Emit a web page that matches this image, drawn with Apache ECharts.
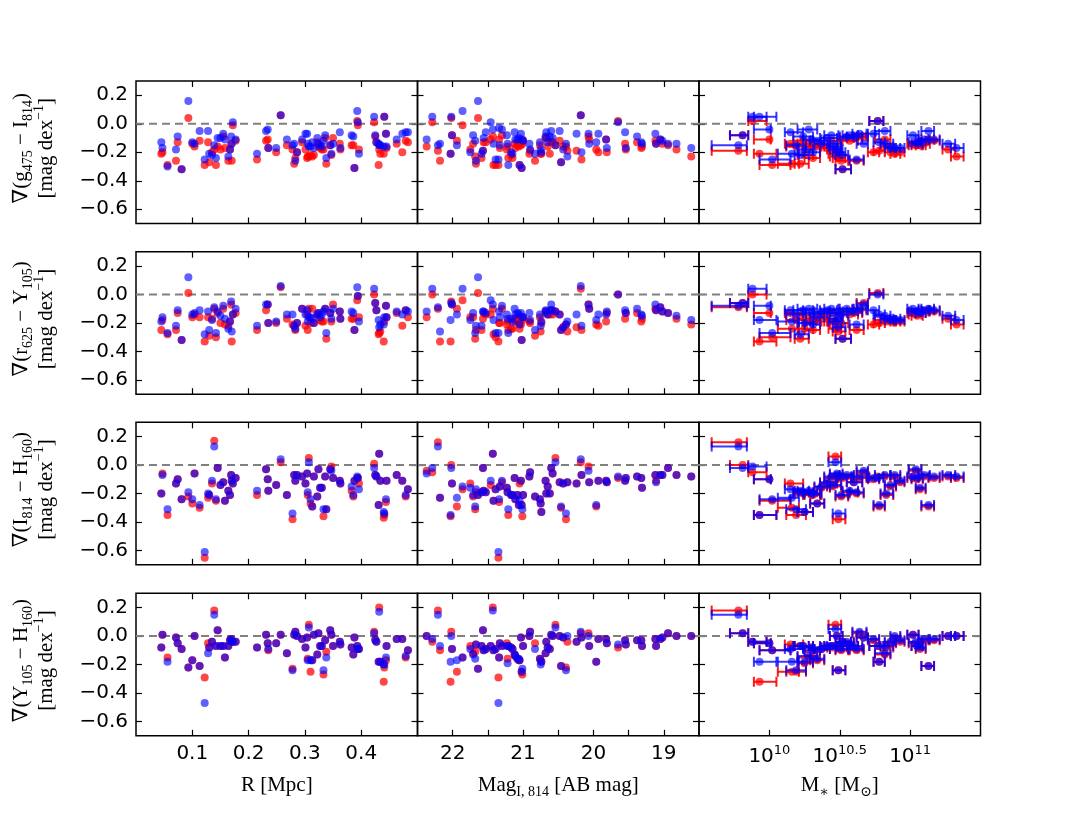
<!DOCTYPE html>
<html lang="en">
<head>
<meta charset="utf-8">
<title>Color gradients vs R, magnitude and stellar mass</title>
<style>
  html, body { margin: 0; padding: 0; background: #fff; }
  #chart { width: 1090px; height: 817px; }
</style>
</head>
<body>
<div id="chart"></div>
<script src="https://cdn.jsdelivr.net/npm/echarts@6/dist/echarts.min.js"></script>
<script>
// ---- column 1: cluster-centric radius [Mpc]
var rMpc = [0.045, 0.047, 0.056, 0.071, 0.074, 0.081, 0.093, 0.100, 0.104, 0.113,
  0.122, 0.128, 0.130, 0.135, 0.139, 0.142, 0.145, 0.150, 0.155, 0.158,
  0.164, 0.167, 0.169, 0.170, 0.172, 0.177, 0.215, 0.231, 0.234, 0.235,
  0.249, 0.257, 0.268, 0.278, 0.281, 0.283, 0.286, 0.295, 0.301, 0.304,
  0.305, 0.307, 0.310, 0.313, 0.316, 0.322, 0.324, 0.327, 0.330, 0.333,
  0.336, 0.338, 0.345, 0.347, 0.350, 0.362, 0.363, 0.383, 0.386, 0.388,
  0.393, 0.394, 0.396, 0.423, 0.425, 0.427, 0.431, 0.432, 0.434, 0.440,
  0.441, 0.444, 0.445, 0.463, 0.473, 0.479, 0.483];
var gIBlueR = [-0.13, -0.17, -0.30, -0.18, -0.09, -0.32, 0.16, -0.13, -0.14, -0.05,
  -0.25, -0.05, -0.21, -0.22, -0.15, -0.24, -0.10, -0.10, -0.07, -0.11,
  -0.23, -0.18, -0.09, -0.14, 0.01, -0.11, -0.21, -0.05, -0.04, -0.17,
  -0.17, 0.06, -0.11, -0.15, -0.14, -0.26, -0.20, -0.11, -0.07, -0.07,
  -0.14, -0.16, -0.16, -0.13, -0.17, -0.10, -0.14, -0.15, -0.16, -0.12,
  -0.08, -0.24, -0.15, -0.21, -0.14, -0.06, -0.17, -0.08, -0.09, -0.31,
  0.09, 0.01, -0.21, 0.05, -0.08, -0.13, -0.14, -0.15, -0.15, -0.16,
  0.05, -0.07, -0.16, -0.11, -0.07, -0.06, -0.06];
var gIRedR = [-0.21, -0.20, -0.29, -0.26, -0.13, -0.32, 0.04, -0.14, -0.16, -0.12,
  -0.29, -0.13, -0.27, -0.20, -0.18, -0.29, -0.16, -0.18, -0.09, -0.17,
  -0.26, -0.18, -0.14, -0.26, -0.01, -0.12, -0.25, -0.12, -0.11, -0.17,
  -0.20, 0.06, -0.15, -0.18, -0.28, -0.24, -0.20, -0.13, -0.18, -0.24,
  -0.23, -0.23, -0.22, -0.23, -0.22, -0.13, -0.16, -0.17, -0.18, -0.18,
  -0.10, -0.28, -0.15, -0.22, -0.10, -0.14, -0.18, -0.15, -0.15, -0.31,
  0.02, -0.01, -0.18, 0.01, -0.09, -0.13, -0.29, -0.18, -0.21, -0.21,
  0.05, -0.07, -0.17, -0.14, -0.20, -0.12, -0.13];
var rYBlueR = [-0.19, -0.16, -0.27, -0.22, -0.11, -0.32, 0.12, -0.14, -0.13, -0.11,
  -0.28, -0.12, -0.25, -0.18, -0.09, -0.27, -0.12, -0.15, -0.08, -0.17,
  -0.24, -0.19, -0.05, -0.26, -0.14, -0.10, -0.22, -0.07, -0.07, -0.20,
  -0.19, 0.06, -0.14, -0.14, -0.22, -0.24, -0.20, -0.10, -0.14, -0.11,
  -0.19, -0.16, -0.16, -0.17, -0.20, -0.14, -0.13, -0.16, -0.14, -0.12,
  -0.10, -0.27, -0.13, -0.17, -0.10, -0.12, -0.17, -0.12, -0.13, -0.25,
  0.05, -0.01, -0.19, 0.04, -0.06, -0.11, -0.18, -0.23, -0.21, -0.21,
  -0.16, -0.08, -0.16, -0.12, -0.14, -0.11, -0.12];
var rYRedR = [-0.25, -0.18, -0.28, -0.25, -0.13, -0.32, 0.01, -0.16, -0.14, -0.16,
  -0.33, -0.16, -0.29, -0.17, -0.10, -0.30, -0.13, -0.20, -0.10, -0.21,
  -0.22, -0.19, -0.07, -0.33, -0.14, -0.13, -0.25, -0.11, -0.07, -0.20,
  -0.20, 0.05, -0.17, -0.21, -0.22, -0.25, -0.20, -0.10, -0.22, -0.14,
  -0.25, -0.10, -0.20, -0.10, -0.20, -0.14, -0.13, -0.18, -0.19, -0.19,
  -0.10, -0.31, -0.13, -0.19, -0.07, -0.12, -0.17, -0.17, -0.17, -0.25,
  -0.04, -0.01, -0.16, 0.00, -0.06, -0.11, -0.28, -0.27, -0.26, -0.33,
  -0.19, -0.08, -0.16, -0.13, -0.22, -0.11, -0.16];
var IHBlueR = [-0.20, -0.07, -0.31, -0.13, -0.10, -0.24, -0.19, -0.24, -0.06, -0.28,
  -0.61, -0.20, -0.21, -0.11, 0.13, -0.24, -0.02, -0.14, -0.12, -0.25,
  -0.18, -0.21, -0.07, -0.11, -0.13, -0.09, -0.18, -0.03, -0.10, -0.18,
  -0.14, 0.04, -0.21, -0.34, -0.07, -0.11, -0.07, -0.08, -0.13, -0.06,
  -0.19, 0.02, -0.24, -0.29, -0.08, -0.22, -0.03, -0.16, -0.16, -0.31,
  -0.08, -0.31, -0.03, -0.04, -0.09, -0.11, -0.13, -0.15, -0.21, -0.11,
  -0.08, -0.09, -0.17, -0.02, -0.07, -0.08, -0.28, 0.08, -0.11, -0.33,
  -0.34, -0.24, -0.11, -0.07, -0.11, -0.21, -0.17];
var IHRedR = [-0.20, -0.06, -0.35, -0.13, -0.10, -0.24, -0.22, -0.27, -0.06, -0.30,
  -0.65, -0.23, -0.21, -0.13, 0.17, -0.25, -0.02, -0.14, -0.12, -0.25,
  -0.18, -0.21, -0.07, -0.11, -0.13, -0.09, -0.21, -0.03, -0.10, -0.18,
  -0.14, 0.02, -0.21, -0.38, -0.07, -0.11, -0.07, -0.08, -0.13, -0.06,
  -0.21, 0.05, -0.27, -0.29, -0.08, -0.22, -0.03, -0.16, -0.16, -0.36,
  -0.08, -0.31, -0.03, -0.01, -0.09, -0.11, -0.13, -0.18, -0.22, -0.11,
  -0.09, -0.09, -0.13, 0.01, -0.07, -0.08, -0.28, 0.08, -0.11, -0.37,
  -0.35, -0.26, -0.11, -0.07, -0.11, -0.22, -0.17];
var YHBlueR = [-0.08, 0.01, -0.18, -0.01, -0.05, -0.09, -0.22, -0.17, 0.00, -0.21,
  -0.47, -0.12, -0.08, -0.04, 0.15, -0.07, 0.04, -0.07, -0.07, -0.15,
  -0.07, -0.03, -0.02, -0.04, -0.04, -0.04, -0.08, 0.01, -0.05, -0.09,
  -0.05, 0.01, -0.12, -0.24, 0.01, 0.03, 0.00, -0.02, -0.08, -0.01,
  -0.17, 0.06, -0.17, -0.17, 0.01, -0.13, 0.02, -0.07, -0.07, -0.24,
  -0.03, -0.15, 0.04, 0.01, -0.07, -0.04, -0.06, -0.08, -0.13, -0.01,
  -0.07, -0.09, -0.09, 0.02, -0.03, -0.04, -0.18, 0.17, -0.18, -0.20,
  -0.20, -0.15, -0.07, -0.02, -0.02, -0.14, -0.10];
var YHRedR = [-0.08, 0.01, -0.15, -0.01, -0.05, -0.09, -0.22, -0.17, 0.00, -0.21,
  -0.29, -0.05, -0.08, -0.04, 0.18, -0.07, 0.04, -0.07, -0.07, -0.15,
  -0.07, -0.03, -0.02, -0.04, -0.04, -0.04, -0.08, 0.01, -0.05, -0.10,
  -0.05, 0.01, -0.12, -0.23, 0.01, 0.03, 0.00, -0.02, -0.08, -0.01,
  -0.16, 0.08, -0.25, -0.17, 0.01, -0.13, 0.02, -0.07, -0.07, -0.27,
  -0.03, -0.11, 0.04, 0.01, -0.07, -0.04, -0.06, -0.08, -0.13, -0.01,
  -0.07, -0.09, -0.09, 0.03, -0.02, -0.04, -0.18, 0.20, -0.18, -0.32,
  -0.22, -0.17, -0.07, -0.02, -0.02, -0.15, -0.10];

// ---- column 2: I814 magnitude [AB mag]
var magI814 = [22.37, 22.29, 22.21, 22.18, 22.03, 22.02, 22.01, 21.94, 21.86, 21.75,
  21.71, 21.68, 21.67, 21.64, 21.59, 21.57, 21.56, 21.53, 21.46, 21.43,
  21.42, 21.39, 21.35, 21.34, 21.33, 21.30, 21.23, 21.22, 21.21, 21.17,
  21.15, 21.12, 21.11, 21.08, 21.06, 21.05, 21.03, 21.02, 21.01, 21.00,
  20.91, 20.90, 20.83, 20.76, 20.75, 20.74, 20.68, 20.67, 20.65, 20.62,
  20.60, 20.58, 20.54, 20.48, 20.46, 20.43, 20.39, 20.37, 20.24, 20.18,
  20.17, 20.07, 20.06, 19.96, 19.93, 19.82, 19.81, 19.65, 19.55, 19.54,
  19.38, 19.32, 19.31, 19.12, 19.11, 19.05, 19.02, 18.94, 18.82, 18.61];
var gIBlueMag = [-0.11, 0.05, -0.15, -0.14, -0.21, 0.05, -0.08, -0.15, 0.09, -0.20,
  -0.08, -0.12, -0.26, 0.16, -0.21, -0.19, -0.10, -0.06, 0.01, -0.04,
  -0.14, -0.25, -0.25, -0.03, -0.15, -0.04, -0.08, -0.14, -0.29, -0.20,
  -0.21, -0.06, -0.11, -0.11, -0.10, -0.29, -0.07, -0.31, -0.11, -0.12,
  -0.14, -0.18, -0.21, -0.13, -0.18, -0.20, -0.09, -0.06, -0.13, -0.09,
  -0.05, -0.10, -0.15, -0.05, -0.27, -0.18, -0.14, -0.23, -0.07, 0.06,
  -0.20, -0.07, -0.14, -0.13, -0.07, -0.11, -0.17, 0.01, -0.06, -0.17,
  -0.09, -0.13, -0.14, -0.07, -0.14, -0.11, -0.12, -0.14, -0.14, -0.17];
var gIRedMag = [-0.16, 0.01, -0.19, -0.26, -0.21, 0.04, -0.08, -0.12, -0.01, -0.18,
  -0.14, -0.23, -0.28, 0.04, -0.24, -0.19, -0.13, -0.13, -0.11, -0.09,
  -0.29, -0.29, -0.29, -0.11, -0.17, -0.08, -0.18, -0.16, -0.24, -0.22,
  -0.24, -0.14, -0.17, -0.15, -0.16, -0.29, -0.15, -0.31, -0.14, -0.12,
  -0.21, -0.19, -0.26, -0.15, -0.21, -0.21, -0.10, -0.10, -0.16, -0.21,
  -0.13, -0.13, -0.15, -0.12, -0.27, -0.16, -0.16, -0.19, -0.19, 0.06,
  -0.25, -0.09, -0.11, -0.18, -0.20, -0.11, -0.20, 0.02, -0.14, -0.18,
  -0.13, -0.17, -0.16, -0.12, -0.14, -0.11, -0.14, -0.15, -0.18, -0.23];
var rYBlueMag = [-0.12, 0.04, -0.09, -0.26, -0.18, -0.06, -0.07, -0.14, 0.04, -0.18,
  -0.13, -0.27, -0.22, 0.12, -0.22, -0.12, -0.12, -0.13, -0.04, -0.07,
  -0.18, -0.27, -0.27, -0.12, -0.16, -0.08, -0.14, -0.17, -0.27, -0.17,
  -0.19, -0.10, -0.14, -0.13, -0.14, -0.21, -0.13, -0.32, -0.16, -0.16,
  -0.13, -0.18, -0.25, -0.14, -0.22, -0.19, -0.11, -0.12, -0.14, -0.11,
  -0.07, -0.11, -0.12, -0.14, -0.25, -0.23, -0.21, -0.19, -0.14, 0.06,
  -0.22, -0.07, -0.10, -0.18, -0.14, -0.14, -0.12, 0.00, -0.11, -0.13,
  -0.10, -0.14, -0.15, -0.07, -0.11, -0.09, -0.12, -0.13, -0.15, -0.18];
var rYRedMag = [-0.16, 0.00, -0.10, -0.33, -0.33, -0.05, -0.07, -0.10, -0.04, -0.16,
  -0.16, -0.31, -0.25, 0.01, -0.25, -0.17, -0.13, -0.14, -0.14, -0.10,
  -0.28, -0.30, -0.33, -0.20, -0.20, -0.10, -0.21, -0.19, -0.25, -0.24,
  -0.24, -0.17, -0.19, -0.18, -0.20, -0.24, -0.21, -0.32, -0.18, -0.16,
  -0.19, -0.20, -0.29, -0.16, -0.26, -0.20, -0.12, -0.13, -0.14, -0.14,
  -0.11, -0.14, -0.12, -0.14, -0.25, -0.23, -0.21, -0.26, -0.23, 0.04,
  -0.25, -0.07, -0.10, -0.21, -0.22, -0.19, -0.13, 0.00, -0.17, -0.13,
  -0.13, -0.19, -0.17, -0.10, -0.11, -0.09, -0.12, -0.13, -0.17, -0.21];
var IHBlueMag = [-0.06, -0.02, 0.13, -0.23, -0.35, -0.02, -0.13, -0.23, -0.15, -0.16,
  -0.21, -0.29, -0.17, -0.21, -0.19, -0.02, -0.18, -0.19, -0.11, 0.08,
  -0.25, -0.17, -0.61, -0.24, -0.15, -0.11, -0.16, -0.19, -0.31, -0.21,
  -0.21, -0.09, -0.24, -0.21, -0.28, -0.25, -0.11, -0.28, -0.31, -0.21,
  -0.08, -0.05, -0.22, -0.24, -0.27, -0.33, -0.11, -0.20, -0.15, -0.20,
  -0.02, -0.06, 0.02, -0.12, -0.29, -0.13, -0.34, -0.12, -0.13, 0.04,
  -0.07, -0.04, -0.12, -0.28, -0.11, -0.11, -0.12, -0.08, -0.11, -0.09,
  -0.08, -0.09, -0.16, -0.07, -0.12, -0.07, -0.07, -0.02, -0.07, -0.08];
var IHRedMag = [-0.04, -0.05, 0.16, -0.23, -0.36, 0.00, -0.13, -0.29, -0.17, -0.13,
  -0.22, -0.31, -0.19, -0.21, -0.19, -0.02, -0.18, -0.19, -0.14, 0.08,
  -0.25, -0.17, -0.65, -0.26, -0.15, -0.12, -0.16, -0.19, -0.35, -0.21,
  -0.21, -0.09, -0.24, -0.21, -0.28, -0.13, -0.11, -0.28, -0.36, -0.21,
  -0.08, -0.05, -0.22, -0.24, -0.27, -0.33, -0.11, -0.20, -0.15, -0.20,
  -0.02, -0.06, 0.05, -0.12, -0.30, -0.13, -0.38, -0.12, -0.13, 0.02,
  -0.07, -0.01, -0.12, -0.29, -0.11, -0.11, -0.12, -0.09, -0.11, -0.09,
  -0.08, -0.09, -0.16, -0.07, -0.11, -0.07, -0.07, -0.02, -0.07, -0.08];
var YHBlueMag = [0.00, -0.02, 0.15, -0.07, -0.18, 0.00, -0.09, -0.17, -0.15, -0.09,
  -0.13, -0.16, -0.06, -0.23, -0.07, 0.04, -0.10, -0.09, -0.07, 0.18,
  -0.10, -0.09, -0.47, -0.15, -0.05, -0.07, -0.07, -0.19, -0.07, -0.08,
  -0.09, -0.13, -0.14, -0.16, -0.16, -0.17, -0.01, -0.25, -0.23, -0.07,
  0.00, 0.03, -0.09, -0.16, -0.20, -0.18, -0.12, -0.04, -0.08, -0.09,
  0.01, 0.00, 0.06, 0.00, -0.21, -0.01, -0.24, 0.00, -0.04, 0.03,
  -0.01, 0.00, -0.07, -0.18, -0.02, -0.02, -0.05, -0.06, -0.03, -0.06,
  -0.03, -0.03, -0.07, -0.02, -0.07, -0.02, -0.01, 0.02, 0.00, 0.00];
var YHRedMag = [0.00, -0.04, 0.18, -0.10, -0.32, 0.03, -0.09, -0.25, -0.15, -0.07,
  -0.12, -0.11, -0.06, -0.23, -0.07, 0.04, -0.10, -0.09, -0.07, 0.20,
  -0.10, -0.09, -0.29, -0.15, -0.05, -0.07, -0.05, -0.16, -0.07, -0.08,
  -0.09, -0.13, -0.14, -0.16, -0.17, -0.17, -0.01, -0.25, -0.27, -0.07,
  0.00, 0.03, -0.05, -0.16, -0.17, -0.18, -0.12, -0.04, -0.08, -0.09,
  0.01, 0.00, 0.08, 0.00, -0.21, -0.01, -0.22, -0.04, -0.04, 0.02,
  -0.01, 0.02, -0.07, -0.18, -0.02, -0.02, -0.05, -0.08, -0.03, -0.06,
  -0.03, -0.03, -0.07, -0.02, -0.07, -0.02, -0.01, 0.02, 0.00, 0.00];

// ---- column 3: log stellar mass, with lower / upper ends of its error bar
var logMass = [9.78, 9.81, 9.88, 9.93, 10.00, 10.02, 10.15, 10.16, 10.19, 10.22,
  10.24, 10.25, 10.28, 10.30, 10.31, 10.34, 10.37, 10.41, 10.44, 10.45,
  10.47, 10.48, 10.49, 10.51, 10.52, 10.55, 10.57, 10.60, 10.62, 10.64,
  10.67, 10.74, 10.77, 10.78, 10.82, 10.83, 10.86, 10.89, 10.93, 11.02,
  11.04, 11.05, 11.07, 11.10, 11.13, 11.17, 11.27, 11.33];
var massLo = [9.59, 9.72, 9.85, 9.89, 9.89, 9.93, 10.11, 10.06, 10.12, 10.18,
  10.17, 10.20, 10.20, 10.24, 10.25, 10.29, 10.32, 10.36, 10.39, 10.41,
  10.42, 10.43, 10.45, 10.47, 10.47, 10.50, 10.52, 10.55, 10.57, 10.59,
  10.62, 10.70, 10.71, 10.74, 10.75, 10.79, 10.82, 10.86, 10.89, 10.98,
  10.99, 11.01, 11.04, 11.06, 11.08, 11.13, 11.23, 11.29];
var massHi = [9.84, 9.85, 9.98, 10.05, 10.01, 10.15, 10.24, 10.21, 10.26, 10.28,
  10.31, 10.31, 10.34, 10.37, 10.36, 10.39, 10.43, 10.48, 10.49, 10.51,
  10.51, 10.52, 10.54, 10.56, 10.58, 10.60, 10.63, 10.66, 10.67, 10.69,
  10.70, 10.78, 10.81, 10.82, 10.86, 10.88, 10.90, 10.93, 10.96, 11.06,
  11.08, 11.09, 11.11, 11.14, 11.17, 11.21, 11.32, 11.38];
var gIBlueM = [-0.15, -0.08, 0.05, 0.05, -0.04, -0.25, -0.06, -0.21, -0.15, -0.22,
  -0.09, -0.18, -0.04, -0.11, -0.20, -0.12, -0.14, -0.10, -0.08, -0.14,
  -0.16, -0.18, -0.20, -0.22, -0.32, -0.09, -0.08, -0.09, -0.25, -0.07,
  -0.14, -0.07, 0.02, -0.13, -0.05, -0.14, -0.17, -0.17, -0.17, -0.08,
  -0.13, -0.14, -0.12, -0.11, -0.05, -0.11, -0.14, -0.17];
var gIRedM = [-0.19, -0.08, 0.02, -0.21, -0.11, -0.29, -0.14, -0.28, -0.16, -0.28,
  -0.12, -0.22, -0.14, -0.16, -0.24, -0.16, -0.15, -0.17, -0.12, -0.18,
  -0.21, -0.23, -0.24, -0.26, -0.32, -0.10, -0.12, -0.10, -0.26, -0.09,
  -0.09, -0.20, 0.02, -0.19, -0.11, -0.16, -0.20, -0.21, -0.20, -0.14,
  -0.15, -0.15, -0.15, -0.14, -0.11, -0.12, -0.18, -0.23];
var rYBlueM = [-0.08, -0.06, 0.04, -0.18, -0.08, -0.27, -0.11, -0.19, -0.14, -0.28,
  -0.11, -0.20, -0.10, -0.13, -0.21, -0.16, -0.12, -0.11, -0.10, -0.13,
  -0.19, -0.17, -0.23, -0.14, -0.31, -0.10, -0.12, -0.12, -0.21, -0.10,
  -0.07, -0.11, 0.00, -0.14, -0.15, -0.17, -0.18, -0.17, -0.18, -0.10,
  -0.12, -0.12, -0.13, -0.11, -0.10, -0.11, -0.15, -0.18];
var rYRedM = [-0.09, -0.06, 0.00, -0.33, -0.13, -0.30, -0.13, -0.24, -0.18, -0.31,
  -0.14, -0.24, -0.17, -0.19, -0.25, -0.19, -0.14, -0.17, -0.13, -0.19,
  -0.24, -0.20, -0.26, -0.20, -0.31, -0.12, -0.14, -0.13, -0.25, -0.11,
  -0.06, -0.21, 0.01, -0.20, -0.18, -0.19, -0.19, -0.19, -0.19, -0.13,
  -0.14, -0.15, -0.13, -0.12, -0.11, -0.12, -0.17, -0.21];
var IHBlueM = [0.13, -0.02, -0.01, -0.35, -0.10, -0.24, -0.17, -0.23, -0.31, -0.18,
  -0.19, -0.33, -0.18, -0.20, -0.20, -0.27, -0.15, -0.12, -0.08, -0.14,
  0.02, -0.06, -0.34, -0.21, -0.08, -0.07, -0.18, -0.12, -0.19, -0.08,
  -0.04, -0.09, -0.09, -0.28, -0.07, -0.20, -0.14, -0.07, -0.11, -0.08,
  -0.03, -0.09, -0.16, -0.07, -0.28, -0.08, -0.07, -0.08];
var IHRedM = [0.16, 0.00, -0.05, -0.35, -0.10, -0.25, -0.13, -0.30, -0.35, -0.19,
  -0.20, -0.33, -0.19, -0.21, -0.21, -0.27, -0.16, -0.13, -0.09, -0.15,
  0.06, -0.07, -0.38, -0.22, -0.09, -0.08, -0.19, -0.12, -0.20, -0.09,
  -0.05, -0.10, -0.08, -0.29, -0.08, -0.21, -0.15, -0.08, -0.12, -0.09,
  -0.04, -0.10, -0.17, -0.08, -0.29, -0.09, -0.08, -0.09];
var YHBlueM = [0.15, 0.02, -0.04, -0.18, -0.05, -0.10, -0.09, -0.18, -0.24, -0.07,
  -0.07, -0.18, -0.14, -0.08, -0.10, -0.16, -0.09, -0.07, -0.07, -0.07,
  0.05, 0.00, -0.24, -0.09, -0.04, -0.04, -0.07, -0.07, -0.09, 0.03,
  -0.01, -0.02, -0.07, -0.18, -0.12, -0.07, -0.04, 0.00, -0.03, 0.01,
  -0.04, -0.07, -0.08, -0.02, -0.21, -0.02, 0.00, 0.00];
var YHRedM = [0.18, 0.02, -0.04, -0.32, -0.05, -0.10, -0.06, -0.25, -0.25, -0.07,
  -0.07, -0.19, -0.15, -0.08, -0.11, -0.17, -0.09, -0.08, -0.07, -0.08,
  0.08, 0.00, -0.24, -0.10, -0.04, -0.05, -0.07, -0.08, -0.10, 0.02,
  -0.01, -0.03, -0.07, -0.18, -0.13, -0.08, -0.05, -0.01, -0.04, 0.01,
  -0.05, -0.07, -0.09, -0.03, -0.21, -0.03, 0.00, 0.00];

// ---- ticks
var rTicks = [0.1, 0.2, 0.3, 0.4];
var magTicks = [19, 19.5, 20, 20.5, 21, 21.5, 22];
var magLabels = [19, 20, 21, 22];
var massTicks = [10, 10.5, 11];
var gradTicks = [-0.6, -0.4, -0.2, 0, 0.2];

// ---- layout
var colLeft = [136, 417.5, 699];
var colW = 281.5;
var rowTop = [81, 251.7, 422.3, 593.3];
var rowH = 142.5;
var sans = 'DejaVu Sans';
var serif = "'Liberation Serif', 'DejaVu Serif', serif";
var RED = 'rgba(255,0,0,0.9)';
var BLUE = 'rgba(0,0,255,0.78)';

var xCols = [
  { data: rMpc, min: 0, max: 0.5, inverse: false, ticks: rTicks, labels: rTicks,
    fmt: function (v) { return v.toFixed(1); } },
  { data: magI814, min: 18.5, max: 22.5, inverse: true, ticks: magTicks, labels: magLabels,
    fmt: function (v) { return String(v); } },
  { data: logMass, min: 9.5, max: 11.5, inverse: false, ticks: massTicks, labels: massTicks,
    fmt: function (v) { return '{b|10}{s|' + v + '}'; } }
];
var blue = [
  [gIBlueR, rYBlueR, IHBlueR, YHBlueR],
  [gIBlueMag, rYBlueMag, IHBlueMag, YHBlueMag],
  [gIBlueM, rYBlueM, IHBlueM, YHBlueM]
];
var red = [
  [gIRedR, rYRedR, IHRedR, YHRedR],
  [gIRedMag, rYRedMag, IHRedMag, YHRedMag],
  [gIRedM, rYRedM, IHRedM, YHRedM]
];

function pairs(xs, ys) {
  return xs.map(function (x, i) { return [x, ys[i]]; });
}
function errBars(ys) {
  return massLo.map(function (lo, i) { return [lo, massHi[i], ys[i]]; });
}
function errRender(color) {
  return function (params, api) {
    var y = api.value(2);
    var a = api.coord([api.value(0), y]);
    var b = api.coord([api.value(1), y]);
    var st = { stroke: color, lineWidth: 2 };
    return {
      type: 'group',
      children: [
        { type: 'line', shape: { x1: a[0], y1: a[1], x2: b[0], y2: b[1] }, style: st },
        { type: 'line', shape: { x1: a[0], y1: a[1] - 5, x2: a[0], y2: a[1] + 5 }, style: st },
        { type: 'line', shape: { x1: b[0], y1: b[1] - 5, x2: b[0], y2: b[1] + 5 }, style: st }
      ]
    };
  };
}
function gradLabel(v) {
  var s = Math.abs(v) < 1e-9 ? '0.0' : v.toFixed(1);
  return s.replace('-', '\u2212');
}

var grids = [], xAxes = [], yAxes = [], series = [];
var tickStyle = { color: '#000', width: 1.2 };
var labelStyle = { color: '#000', fontFamily: sans, fontSize: 20 };

for (var r = 0; r < 4; r++) {
  for (var c = 0; c < 3; c++) {
    var gi = grids.length;
    var xc = xCols[c];
    grids.push({
      left: colLeft[c], top: rowTop[r], width: colW, height: rowH,
      show: true, borderColor: '#000', borderWidth: 1.5, backgroundColor: 'transparent'
    });
    var xMain = xAxes.length;
    [['bottom', r === 3], ['top', false]].forEach(function (p) {
      xAxes.push({
        gridIndex: gi, type: 'value', position: p[0], min: xc.min, max: xc.max, inverse: xc.inverse,
        axisLine: { show: false, onZero: false }, splitLine: { show: false },
        axisTick: { show: true, inside: true, length: 6, lineStyle: tickStyle, customValues: xc.ticks },
        axisLabel: {
          show: p[1], customValues: xc.labels, formatter: xc.fmt, margin: 8,
          color: '#000', fontFamily: sans, fontSize: 20,
          rich: {
            b: { fontSize: 20, fontFamily: sans, color: '#000', lineHeight: 26 },
            s: { fontSize: 13, fontFamily: sans, color: '#000', lineHeight: 13, verticalAlign: 'top' }
          }
        }
      });
    });
    var yMain = yAxes.length;
    [['left', c === 0], ['right', false]].forEach(function (p) {
      yAxes.push({
        gridIndex: gi, type: 'value', position: p[0], min: -0.7, max: 0.3,
        axisLine: { show: false, onZero: false }, splitLine: { show: false },
        axisTick: { show: true, inside: true, length: 6, lineStyle: tickStyle, customValues: gradTicks },
        axisLabel: Object.assign({ show: p[1], customValues: gradTicks, formatter: gradLabel, margin: 8 }, labelStyle)
      });
    });

    // dashed zero line across the panel
    series.push({
      type: 'line', xAxisIndex: xMain, yAxisIndex: yMain, silent: true, z: 1,
      symbol: 'none', data: [[xc.min, 0], [xc.max, 0]],
      lineStyle: { color: '#808080', width: 2, type: [8, 5] }
    });
    if (c === 2) {
      series.push({
        type: 'custom', xAxisIndex: xMain, yAxisIndex: yMain, silent: true, z: 2, clip: true,
        renderItem: errRender(RED), encode: { x: [0, 1], y: 2 }, data: errBars(red[c][r])
      });
    }
    series.push({
      type: 'scatter', xAxisIndex: xMain, yAxisIndex: yMain, silent: true, z: 3,
      symbolSize: 8, itemStyle: { color: RED }, data: pairs(xc.data, red[c][r])
    });
    if (c === 2) {
      series.push({
        type: 'custom', xAxisIndex: xMain, yAxisIndex: yMain, silent: true, z: 4, clip: true,
        renderItem: errRender(BLUE), encode: { x: [0, 1], y: 2 }, data: errBars(blue[c][r])
      });
    }
    series.push({
      type: 'scatter', xAxisIndex: xMain, yAxisIndex: yMain, silent: true, z: 5,
      symbolSize: 8, itemStyle: { color: BLUE }, data: pairs(xc.data, blue[c][r])
    });
  }
}

// axis titles (rotated y names and x names)
var colours = [['g', '475', 'I', '814'], ['r', '625', 'Y', '105'], ['I', '814', 'H', '160'], ['Y', '105', 'H', '160']];
var rich = {
  m: { fontFamily: serif, fontSize: 21, fill: '#000', lineHeight: 28 },
  sb: { fontFamily: serif, fontSize: 14, fill: '#000', lineHeight: 14, verticalAlign: 'bottom' },
  sp: { fontFamily: serif, fontSize: 14, fill: '#000', lineHeight: 14, verticalAlign: 'top' }
};
var graphics = [];
colours.forEach(function (cl, r) {
  var cy = rowTop[r] + rowH / 2 - 4;
  graphics.push({
    type: 'text', x: 21, y: cy, rotation: Math.PI / 2,
    style: {
      text: '{m|\u2207(' + cl[0] + '}{sb|' + cl[1] + '}{m| \u2212 ' + cl[2] + '}{sb|' + cl[3] + '}{m|)}',
      rich: rich, align: 'center', verticalAlign: 'middle', fill: '#000'
    }
  });
  graphics.push({
    type: 'text', x: 46, y: cy, rotation: Math.PI / 2,
    style: {
      text: '{m|[mag dex}{sp|\u22121}{m|]}',
      rich: rich, align: 'center', verticalAlign: 'middle', fill: '#000'
    }
  });
});
var xNames = [
  '{m|R [Mpc]}',
  '{m|Mag}{sb|I, 814}{m| [AB mag]}',
  '{m|M}{sb|\u2217}{m| [M}{sb|\u2299}{m|]}'
];
xNames.forEach(function (t, c) {
  graphics.push({
    type: 'text', x: colLeft[c] + colW / 2, y: 785,
    style: { text: t, rich: rich, align: 'center', verticalAlign: 'middle', fill: '#000' }
  });
});

var chart = echarts.init(document.getElementById('chart'));
chart.setOption({
  backgroundColor: '#fff',
  animation: false,
  grid: grids,
  xAxis: xAxes,
  yAxis: yAxes,
  series: series,
  graphic: graphics
});
</script>
</body>
</html>
